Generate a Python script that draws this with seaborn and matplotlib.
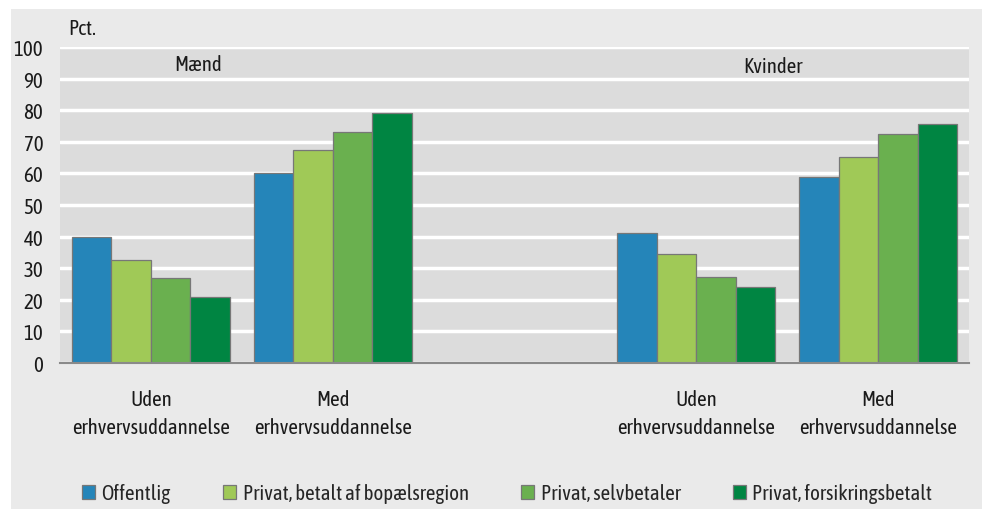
import matplotlib
matplotlib.use('Agg')
import matplotlib.pyplot as plt
from matplotlib import font_manager
from matplotlib.patches import Rectangle
import seaborn as sns
import pandas as pd

# Données
groupes = ['Mænd', 'Kvinder']
uddannelse = ['Uden\nerhvervsuddannelse', 'Med\nerhvervsuddannelse',
              'Uden\nerhvervsuddannelse', 'Med\nerhvervsuddannelse']
serier = ['Offentlig', 'Privat, betalt af bopælsregion',
          'Privat, selvbetaler', 'Privat, forsikringsbetalt']
offentlig = [40, 60, 41, 58.8]
bopael = [32.5, 67.3, 34.4, 65.1]
selvbetaler = [26.9, 73.0, 27.2, 72.5]
forsikring = [20.8, 79.0, 23.9, 75.7]
couleurs = ['#2585b9', '#a0c957', '#6ab04f', '#008542']

sns.set_style('white')
noms = {f.name for f in font_manager.fontManager.ttflist}
police = next((p for p in ['Asap Condensed', 'Archivo Narrow', 'Barlow Semi Condensed'] if p in noms),
              'DejaVu Sans')
plt.rcParams['font.family'] = [police, 'DejaVu Sans']
taille = 15

# Construire la table longue
lignes = []
cles = ['M_Uden', 'M_Med', 'K_Uden', 'K_Med']
for vals, nom in zip([offentlig, bopael, selvbetaler, forsikring], serier):
    for cle, v in zip(cles, vals):
        lignes.append({'cat': cle, 'serie': nom, 'val': v})
df = pd.DataFrame(lignes)
ordre = ['M_Uden', 'M_Med', 'gap', 'K_Uden', 'K_Med']

fig = plt.figure(figsize=(9.82, 5.10), dpi=100)
fig.patch.set_facecolor('white')
fig.patches.append(Rectangle((11 / 982, 0), 1, 1 - 10 / 510, transform=fig.transFigure,
                             facecolor='#eaeaea', edgecolor='none', zorder=-10))
ax = fig.add_axes([60 / 982, 1 - 364 / 510, (969 - 60) / 982, (364 - 48) / 510])
ax.set_facecolor('#dcdcdc')

sns.barplot(data=df, x='cat', y='val', hue='serie', order=ordre, hue_order=serier,
            palette=couleurs, width=0.87, edgecolor='#777777', linewidth=0.9,
            saturation=1, ax=ax, legend=True)

ax.set_ylim(0, 100)
ax.set_xlim(-0.5, 4.5)
ax.set_yticks(range(0, 101, 10))
ax.yaxis.grid(True, color='white', linewidth=2.5)
ax.set_axisbelow(True)
for s in ['top', 'right', 'left']:
    ax.spines[s].set_visible(False)
ax.spines['bottom'].set_color('#8a8a8a')
ax.spines['bottom'].set_linewidth(1.5)
ax.tick_params(axis='both', length=0, labelsize=taille, colors='#1a1a1a')
ax.tick_params(axis='y', pad=12)
ax.tick_params(axis='x', pad=19)
ax.set_xticks([0, 1, 3, 4])
ax.set_xticklabels(uddannelse, linespacing=1.45)
ax.set_xlabel('')
ax.set_ylabel('')

ax.text(0.26, 94.5, groupes[0], ha='center', va='center', fontsize=taille, color='#1a1a1a')
ax.text(3.42, 94, groupes[1], ha='center', va='center', fontsize=taille, color='#1a1a1a')
fig.text(68 / 982, 1 - 29 / 510, 'Pct.', ha='left', va='center', fontsize=taille, color='#1a1a1a')

ax.legend_.remove()
poignees, etiquettes = ax.get_legend_handles_labels()
fig.legend(poignees, etiquettes, loc='center', bbox_to_anchor=(507 / 982, 1 - 494 / 510),
           ncol=4, frameon=False, fontsize=taille, handlelength=0.65, handleheight=0.65,
           handletextpad=0.3, columnspacing=2.5)

fig.savefig('out.png', dpi=100, facecolor=fig.get_facecolor())
